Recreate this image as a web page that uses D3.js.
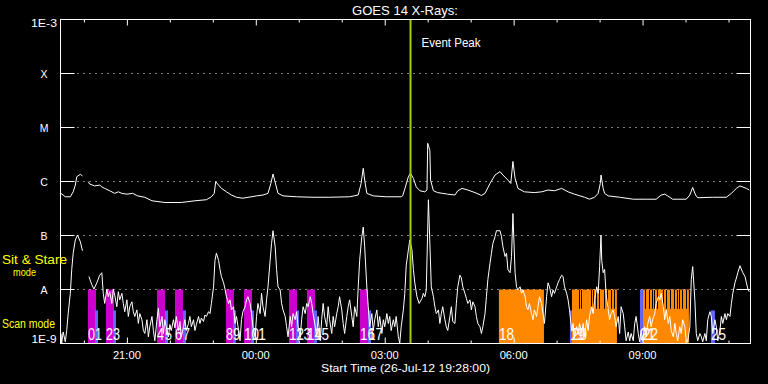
<!DOCTYPE html>
<html><head><meta charset="utf-8">
<script src="https://cdn.jsdelivr.net/npm/d3@7"></script>
<style>html,body{margin:0;padding:0;background:#000;overflow:hidden}svg{display:block}</style>
</head><body><svg id="c" width="768" height="384"></svg>
<script>
// ---------------- data ----------------
const startTime = new Date(2012, 6, 26, 19, 28, 0);
const spanMinutes = 962;
const titleText = "GOES 14 X-Rays:";
const xAxisTitle = "Start Time (26-Jul-12 19:28:00)";
const xTickLabels = ["21:00", "00:00", "03:00", "06:00", "09:00"];
const yLevelValues = [1e-3, 1e-4, 1e-5, 1e-6, 1e-7, 1e-8, 1e-9];
const yLevelLabels = ["1E-3", "X", "M", "C", "B", "A", "1E-9"];
const modeLabels = ["Sit & Stare", "mode", "Scan mode"];
const eventPeakMinute = 488;
const eventLabel = "Event Peak";

// [minutes after start, flux W/m^2]  (null = data gap)
const longChannel = [[0,5.9e-7],[6,5.1e-7],[13,5.1e-7],[17,6.3e-7],[20,8.4e-7],[22,1.2e-6],[27,1.33e-6],[30,1.24e-6],[35,null],
[38,9.7e-7],[40,8.8e-7],[47,8.1e-7],[54,8.4e-7],[57,7.8e-7],[61,7.3e-7],[68,6.6e-7],[75,5.9e-7],[80,6.3e-7],[85,5.9e-7],[92,5.7e-7],
[100,5.9e-7],[107,5.3e-7],[117,5.0e-7],[127,4.3e-7],[145,4.0e-7],[168,4.0e-7],[187,4.3e-7],[203,4.5e-7],[210,5.1e-7],[214,5.9e-7],
[216,9.7e-7],[220,8.4e-7],[224,7.3e-7],[231,6.3e-7],[238,5.5e-7],[245,5.0e-7],[254,4.8e-7],[273,5.3e-7],[282,5.5e-7],[289,5.9e-7],
[293,9.0e-7],[296,1.35e-6],[300,8.4e-7],[303,5.9e-7],[310,5.3e-7],[329,5.1e-7],[352,5.0e-7],[375,5.0e-7],[403,5.1e-7],[415,5.5e-7],
[419,9.0e-7],[422,1.72e-6],[424,1.04e-6],[427,5.9e-7],[436,5.3e-7],[454,5.1e-7],[475,5.1e-7],[477,5.3e-7],[480,7.1e-7],[485,1.2e-6],
[488,1.39e-6],[492,1.12e-6],[496,7.8e-7],[501,6.6e-7],[508,6.3e-7],[511,6.8e-7],[512,5.0e-6],[515,3.7e-6],[516,1.04e-6],[520,6.6e-7],
[526,6.1e-7],[540,5.7e-7],[550,5.5e-7],[554,6.6e-7],[560,7.3e-7],[568,6.8e-7],[578,6.1e-7],[587,5.4e-7],[592,5.9e-7],[599,9.0e-7],
[606,1.29e-6],[613,1.49e-6],[617,1.29e-6],[624,1.04e-6],[628,9.0e-7],[631,2.3e-6],[634,1.12e-6],[638,7.3e-7],[647,6.3e-7],[661,6.1e-7],
[671,6.3e-7],[680,6.8e-7],[689,6.6e-7],[699,7.3e-7],[708,6.3e-7],[717,5.7e-7],[731,5.0e-7],[738,4.6e-7],[745,5.0e-7],[750,5.9e-7],
[753,9.0e-7],[754,1.29e-6],[757,7.3e-7],[759,5.9e-7],[764,5.3e-7],[780,5.0e-7],[799,4.6e-7],[817,4.6e-7],[831,4.6e-7],[838,5.5e-7],
[843,5.7e-7],[847,5.3e-7],[854,4.6e-7],[873,4.6e-7],[878,5.5e-7],[882,7.6e-7],[886,5.5e-7],[889,4.9e-7],[910,5.0e-7],[929,5.0e-7],
[936,5.9e-7],[943,7.3e-7],[948,8.1e-7],[957,7.3e-7],[961,6.8e-7]];

const shortChannel = [[0,1.5e-9],[1,1.0e-9],[3,1.6e-9],[6,1.05e-9],[8,1.7e-9],[10,3.5e-9],[13,8.3e-9],[15,2.3e-8],[17,4.6e-8],[20,8.1e-8],[23,1.0e-7],[27,7.5e-8],[30,5.1e-8],[35,null],
[39,1.7e-8],[43,1.2e-8],[46,1.0e-8],[50,1.3e-8],[54,1.8e-8],[57,2.0e-8],[59,8.3e-9],[61,5.4e-9],[64,1.0e-8],[66,7.2e-9],[68,8.9e-9],[71,5.4e-9],[73,1.0e-8],[75,7.7e-9],[78,4.7e-9],[80,8.9e-9],[82,6.3e-9],[85,8.3e-9],[87,5.4e-9],[89,3.8e-9],[92,6.3e-9],[94,3.1e-9],[96,4.7e-9],[99,5.8e-9],[101,3.8e-9],[103,3.1e-9],[106,4.1e-9],[108,2.3e-9],[110,3.5e-9],[113,2.7e-9],[115,1.7e-9],[117,1.5e-9],[120,2.7e-9],[122,1.3e-9],[124,2.0e-9],[127,3.1e-9],[129,1.7e-9],[131,1.1e-9],[134,2.7e-9],[136,4.4e-9],[138,2.0e-9],[141,3.1e-9],[143,1.5e-9],[145,2.7e-9],[147,2.0e-9],[150,1.3e-9],[152,2.2e-9],[154,1.7e-9],[157,2.7e-9],[159,1.9e-9],[161,3.1e-9],[164,1.7e-9],[166,2.5e-9],[168,1.3e-9],[171,2.0e-9],[173,2.7e-9],[175,1.7e-9],[178,2.3e-9],[180,3.1e-9],[182,2.0e-9],[185,2.7e-9],[187,1.7e-9],[189,2.2e-9],[192,3.1e-9],[194,2.3e-9],[196,2.9e-9],[199,2.5e-9],[201,3.3e-9],[203,3.1e-9],[206,3.8e-9],[208,3.5e-9],[210,5.4e-9],[213,1.1e-8],[215,3.4e-8],[217,4.6e-8],[220,3.4e-8],[222,2.3e-8],[224,1.7e-8],[227,1.3e-8],[229,1.0e-8],[231,7.2e-9],[234,5.4e-9],[236,6.3e-9],[238,4.1e-9],[241,4.7e-9],[243,2.3e-9],[245,3.1e-9],[248,1.7e-9],[250,1.1e-9],[252,2.7e-9],[254,3.8e-9],[257,4.7e-9],[259,6.3e-9],[261,7.2e-9],[264,5.4e-9],[266,3.5e-9],[268,2.0e-9],[271,1.3e-9],[273,3.1e-9],[275,5.4e-9],[278,3.5e-9],[280,8.3e-9],[282,4.7e-9],[285,3.1e-9],[287,6.3e-9],[289,1.1e-8],[292,3.4e-8],[294,7.0e-8],[296,1.2e-7],[299,6.1e-8],[301,2.3e-8],[303,1.1e-8],[306,9.6e-9],[308,5.4e-9],[310,4.1e-9],[313,3.1e-9],[315,2.0e-9],[317,1.3e-9],[320,3.1e-9],[322,2.0e-9],[324,3.5e-9],[327,2.7e-9],[329,3.8e-9],[331,2.0e-9],[334,1.3e-9],[336,2.7e-9],[338,4.7e-9],[341,3.5e-9],[343,5.4e-9],[345,4.7e-9],[348,7.2e-9],[350,5.4e-9],[352,3.5e-9],[355,2.0e-9],[357,1.3e-9],[359,3.1e-9],[362,1.1e-9],[364,2.7e-9],[366,5.4e-9],[368,3.1e-9],[371,2.0e-9],[373,4.7e-9],[375,2.7e-9],[378,1.5e-9],[380,3.1e-9],[382,2.0e-9],[385,3.5e-9],[387,4.7e-9],[389,7.2e-9],[392,4.1e-9],[394,2.3e-9],[396,1.5e-9],[399,3.1e-9],[401,4.7e-9],[403,6.3e-9],[406,3.1e-9],[408,2.0e-9],[410,4.7e-9],[413,3.1e-9],[415,1.1e-8],[417,3.4e-8],[420,9.3e-8],[422,1.4e-7],[424,6.1e-8],[427,1.1e-8],[429,4.7e-9],[431,2.0e-9],[434,3.5e-9],[436,1.7e-9],[438,2.7e-9],[441,4.1e-9],[443,2.0e-9],[445,3.1e-9],[448,1.5e-9],[450,2.7e-9],[452,2.0e-9],[455,3.5e-9],[457,2.3e-9],[459,3.1e-9],[461,1.7e-9],[464,2.7e-9],[466,2.0e-9],[468,3.1e-9],[471,1.3e-9],[473,1.0e-9],[475,2.0e-9],[478,4.1e-9],[480,8.3e-9],[482,2.7e-8],[485,5.3e-8],[487,8.1e-8],[490,5.3e-8],[492,2.3e-8],[494,1.3e-8],[497,7.2e-9],[500,5.4e-9],[504,6.7e-9],[506,8.3e-9],[508,7.2e-9],[510,9.6e-9],[513,4.5e-7],[517,1.1e-8],[520,7.2e-9],[522,4.7e-9],[524,3.5e-9],[527,4.1e-9],[529,2.3e-9],[531,3.5e-9],[533,4.7e-9],[536,2.7e-9],[538,2.0e-9],[540,1.7e-9],[543,3.1e-9],[545,4.7e-9],[547,2.5e-9],[550,2.3e-9],[552,5.4e-9],[554,1.1e-8],[557,1.8e-8],[559,1.6e-8],[561,1.1e-8],[564,8.3e-9],[566,6.7e-9],[568,5.4e-9],[571,6.3e-9],[573,4.1e-9],[575,5.8e-9],[578,4.7e-9],[580,3.1e-9],[582,2.3e-9],[585,2.0e-9],[587,1.5e-9],[589,2.0e-9],[592,3.5e-9],[594,7.2e-9],[596,1.5e-8],[599,3.0e-8],[601,4.6e-8],[603,7.0e-8],[606,9.3e-8],[608,1.2e-7],[613,1.2e-7],[615,9.3e-8],[617,6.1e-8],[620,4.0e-8],[622,4.6e-8],[624,2.3e-8],[627,2.0e-8],[629,4.0e-8],[631,2.5e-7],[634,2.0e-8],[636,1.1e-8],[638,9.6e-9],[641,1.1e-8],[643,8.3e-9],[645,9.6e-9],[648,7.2e-9],[650,4.7e-9],[652,4.1e-9],[654,5.4e-9],[657,3.5e-9],[659,2.7e-9],[661,4.1e-9],[664,3.1e-9],[666,4.7e-9],[668,7.2e-9],[671,5.4e-9],[673,3.5e-9],[675,2.3e-9],[678,7.2e-9],[680,1.3e-8],[682,1.1e-8],[685,7.2e-9],[687,9.6e-9],[689,8.3e-9],[692,1.1e-8],[694,1.3e-8],[696,1.5e-8],[699,1.8e-8],[701,1.7e-8],[703,1.1e-8],[706,8.3e-9],[708,6.3e-9],[710,4.1e-9],[713,1.7e-9],[715,2.3e-9],[717,1.3e-9],[720,2.0e-9],[722,1.5e-9],[724,2.3e-9],[727,1.5e-9],[729,2.3e-9],[731,1.3e-9],[734,2.7e-9],[736,1.7e-9],[738,3.1e-9],[741,4.7e-9],[743,3.5e-9],[745,6.3e-9],[748,1.1e-8],[750,8.3e-9],[752,2.6e-8],[754,1.0e-7],[755,3.4e-8],[757,2.0e-8],[759,2.3e-8],[761,8.3e-9],[764,4.1e-9],[766,2.7e-9],[768,3.5e-9],[771,4.1e-9],[773,3.1e-9],[775,2.0e-9],[778,3.1e-9],[780,1.5e-9],[782,4.7e-9],[785,3.5e-9],[787,2.0e-9],[789,1.1e-9],[792,1.6e-9],[794,1.1e-9],[796,1.5e-9],[799,1.1e-9],[801,2.3e-9],[803,3.1e-9],[806,1.5e-9],[808,1.05e-9],[810,1.7e-9],[812,1.1e-9],[815,2.0e-9],[817,1.3e-9],[819,2.2e-9],[822,3.1e-9],[824,2.0e-9],[826,2.7e-9],[829,3.5e-9],[831,5.4e-9],[834,7.2e-9],[836,6.3e-9],[838,8.3e-9],[841,4.7e-9],[843,2.7e-9],[845,4.1e-9],[848,2.3e-9],[850,3.1e-9],[852,1.7e-9],[855,1.3e-9],[857,2.3e-9],[859,1.5e-9],[861,1.1e-9],[864,2.0e-9],[866,1.5e-9],[868,2.7e-9],[871,2.0e-9],[873,1.1e-9],[875,1.05e-9],[878,2.0e-9],[880,1.5e-8],[882,2.6e-8],[885,6.3e-9],[887,1.5e-9],[889,1.1e-9],[892,1.5e-9],[894,1.3e-9],[896,1.05e-9],[899,1.5e-9],[901,1.1e-9],[903,2.7e-9],[906,3.8e-9],[908,3.1e-9],[910,1.5e-9],[913,2.7e-9],[915,2.0e-9],[917,1.1e-9],[920,1.7e-9],[922,3.1e-9],[924,2.3e-9],[927,3.5e-9],[929,2.7e-9],[931,3.5e-9],[934,3.1e-9],[936,5.4e-9],[938,8.3e-9],[941,1.3e-8],[943,1.6e-8],[945,2.0e-8],[948,2.7e-8],[952,2.0e-8],[955,1.7e-8],[957,1.3e-8],[959,1.0e-8],[961,8.9e-9]];

// observing-mode bars: start/end minutes after start, type, upper flux level, label
const barStart = [37.7,47.5,62.8,72.6,134.0,145.2,159.1,170.3,230.3,240.1,255.5,265.2,318.3,328.0,343.4,353.2,417.4,428.6,611.4,710.6,713.4,808.3,812.5,907.4];
const barEnd   = [48.9,51.7,74.0,76.8,145.2,149.4,170.3,174.5,241.5,244.3,266.7,269.4,329.5,332.2,354.6,357.4,428.6,432.8,674.3,713.4,776.2,812.5,876.7,913.0];
const barType  = ["scan","aux","scan","aux","scan","aux","scan","aux","scan","aux","scan","aux","scan","aux","scan","aux","scan","aux","sit","aux","sit","aux","sit","aux"];
const barTop   = [1e-8,4.1e-9,1e-8,4.1e-9,1e-8,4.1e-9,1e-8,4.1e-9,1e-8,4.1e-9,1e-8,4.1e-9,1e-8,4.1e-9,1e-8,4.1e-9,1e-8,4.1e-9,1e-8,4.1e-9,1e-8,1e-8,1e-8,4.1e-9];
const barLabel = ["0","1","2","3","4","5","6","7","8","9","10","11","12","13","14","15","16","17","18","19","20","21","22","25"];
// short interruptions drawn inside the sit & stare blocks (minutes after start)
const gapMinutes = [723,726,740,743,747,751,758,762,768,772,815,821,825,828,832,840,845,850,856,860,863,867,872];
const gapLevels = [1e-8, 4.3e-9];

// ---------------- drawing ----------------
const svg = d3.select("#c");
svg.append("rect").attr("width",768).attr("height",384).attr("fill","#000");
const toDate = m => new Date(startTime.getTime() + m * 60000);
const endTime = toDate(spanMinutes);
const x = d3.scaleTime().domain([startTime, endTime]).range([61, 750]);
const y = d3.scaleLog().domain([1e-9, 1e-3]).range([343, 19]);
const colors = {scan: "#cc00cc", aux: "#6464ff", sit: "#ff8800"};
const FONT = "'Liberation Sans', Arial, sans-serif";

svg.append("defs").append("clipPath").attr("id","plot")
  .append("rect").attr("x",61).attr("y",19).attr("width",689).attr("height",324.5);
const plot = svg.append("g").attr("clip-path","url(#plot)");

// bars
const bars = barStart.map((s,i)=>({s, e: barEnd[i], t: barType[i], top: barTop[i], lab: barLabel[i]}));
plot.selectAll("rect.bar").data(bars).join("rect").attr("class","bar")
  .attr("x", d => x(toDate(d.s))).attr("width", d => x(toDate(d.e)) - x(toDate(d.s)))
  .attr("y", d => y(d.top) + 0.5).attr("height", d => y(1e-9) - y(d.top))
  .attr("fill", d => colors[d.t]);
plot.selectAll("line.gap").data(gapMinutes).join("line").attr("class","gap")
  .attr("x1", d => Math.round(x(toDate(d))) + 0.5).attr("x2", d => Math.round(x(toDate(d))) + 0.5)
  .attr("y1", y(gapLevels[0]) + 1).attr("y2", y(gapLevels[1]))
  .attr("stroke","#000").attr("stroke-width",1);

// dotted level grid
const gridLevels = yLevelValues.slice(1, -1);
svg.append("g").attr("transform","translate(60.5,0)")
  .call(d3.axisLeft(y).tickValues(gridLevels).tickSize(-690).tickFormat(""))
  .call(g => g.select(".domain").remove())
  .call(g => g.selectAll("line").attr("stroke","#fff").attr("stroke-dasharray","1,5").attr("stroke-dashoffset",-5));

// bar labels
svg.append("g").selectAll("text").data(bars).join("text")
  .attr("x", d => x(toDate(d.s))).attr("y", 339.5)
  .attr("fill","#fff").attr("font-family",FONT).attr("font-size",16.5)
  .attr("textLength", d => 8 * d.lab.length - 1).attr("lengthAdjust","spacingAndGlyphs")
  .text(d => d.lab);

// curves
const line = d3.line().defined(d => d[1] != null).x(d => x(toDate(d[0]))).y(d => y(Math.max(d[1], 1e-9)));
[longChannel, shortChannel].forEach(series => {
  plot.append("path").datum(series).attr("d", line)
    .attr("fill","none").attr("stroke","#fff").attr("stroke-width",1);
});

// event peak
const ev = toDate(eventPeakMinute);
svg.append("line").attr("x1", x(ev)).attr("x2", x(ev)).attr("y1", 19).attr("y2", 343)
  .attr("stroke","#a0d000").attr("stroke-width",2);
svg.append("text").attr("x", x(ev) + 11).attr("y", 47).attr("fill","#fff")
  .attr("font-family",FONT).attr("font-size",12).attr("textLength",59).attr("lengthAdjust","spacingAndGlyphs")
  .text(eventLabel);

// frame
svg.append("rect").attr("x",60.5).attr("y",19.5).attr("width",690).attr("height",324)
  .attr("fill","none").attr("stroke","#fff");

// x ticks
const hours = d3.timeHour.range(startTime, endTime).filter(d => d > startTime);
const majorH = hours.filter(d => d.getHours() % 3 === 0);
const minorH = hours.filter(d => d.getHours() % 3 !== 0);
function tickRow(gen, vals, size, ty) {
  svg.append("g").attr("transform", `translate(0,${ty})`)
    .call(gen(x).tickValues(vals).tickSize(size).tickFormat(""))
    .call(g => g.select(".domain").remove())
    .call(g => g.selectAll("line").attr("stroke","#fff"));
}
tickRow(d3.axisTop, minorH, -3, 19.5);
tickRow(d3.axisTop, majorH, -6, 19.5);
tickRow(d3.axisBottom, minorH, -3, 343.5);
tickRow(d3.axisBottom, majorH, -6, 343.5);

// y ticks both sides
[[d3.axisLeft, 60.5], [d3.axisRight, 750.5]].forEach(([gen, tx]) => {
  svg.append("g").attr("transform", `translate(${tx},0)`)
    .call(gen(y).tickValues(gridLevels).tickSize(-14).tickFormat(""))
    .call(g => g.select(".domain").remove())
    .call(g => g.selectAll("line").attr("stroke","#fff"));
});

// text helper
function txt(str, xp, yp, opt) {
  const t = svg.append("text").attr("x", xp).attr("y", yp).attr("fill", opt.fill || "#fff")
    .attr("font-family", FONT).attr("font-size", opt.size || 11)
    .attr("text-anchor", opt.anchor || "start").text(str);
  if (opt.len) t.attr("textLength", opt.len).attr("lengthAdjust","spacingAndGlyphs");
  return t;
}
// title & axis title
txt(titleText, 405, 15, {size: 13.5, anchor: "middle", len: 106});
txt(xAxisTitle, 405.5, 372, {size: 11, anchor: "middle", len: 169});

// x tick labels
xTickLabels.forEach(s => {
  const [h, m] = s.split(":").map(Number);
  const d = new Date(2012, 6, h >= startTime.getHours() ? 26 : 27, h, m);
  txt(s, x(d), 358.5, {size: 10, anchor: "middle", len: 28});
});

// y labels
yLevelLabels.forEach((s, i) => {
  const v = yLevelValues[i];
  if (i === 0) txt(s, 57, y(v) + 8, {size: 11, anchor: "end", len: 26});
  else if (i === yLevelLabels.length - 1) txt(s, 56.5, y(v), {size: 10.5, anchor: "end", len: 25});
  else txt(s, 44, y(v) + 4.5, {size: 10.5, anchor: "middle"});
});

// observing-mode labels
txt(modeLabels[0], 2, 264, {size: 12, fill: "#ffff00", len: 65});
txt(modeLabels[1], 13, 275.5, {size: 11.5, fill: "#ffff00", len: 23});
txt(modeLabels[2], 2, 328, {size: 12, fill: "#ffff00", len: 53});
</script>
</body></html>
